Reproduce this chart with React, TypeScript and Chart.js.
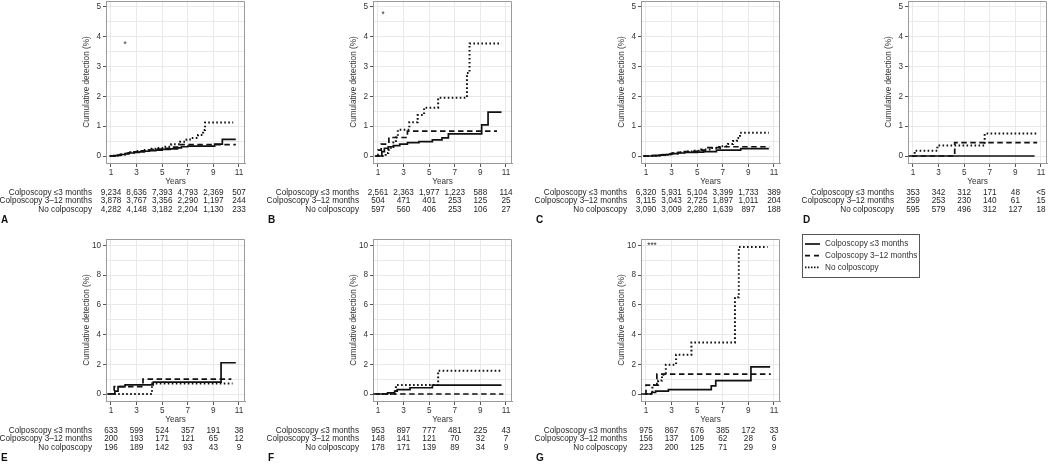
import React, { useEffect, useRef } from 'react';
import { Chart, registerables } from 'chart.js';

Chart.register(...registerables);

type Pt = [number, number];

const FONT = '"Liberation Sans", Arial, Helvetica, sans-serif';
const YEAR_TICKS = [1, 3, 5, 7, 9, 11];
const GROUPS = ['Colposcopy ≤3 months', 'Colposcopy 3–12 months', 'No colposcopy'];
const Y_TICKS_TOP = [0, 0.5, 1, 1.5, 2, 2.5, 3, 3.5, 4, 4.5, 5];
const Y_LABELS_TOP = [0, 1, 2, 3, 4, 5];
const Y_TICKS_BOTTOM = [0, 1, 2, 3, 4, 5, 6, 7, 8, 9, 10];
const Y_LABELS_BOTTOM = [0, 2, 4, 6, 8, 10];

// ---- Panel A ----
const A_le3: Pt[] = [[0.9, 0], [1.2, 0.01], [1.5, 0.03], [1.8, 0.05], [2.1, 0.08], [2.4, 0.1], [2.8, 0.12], [3.2, 0.14], [3.6, 0.16], [4.0, 0.18], [4.5, 0.2], [5.0, 0.22], [5.6, 0.24], [6.2, 0.27], [6.5, 0.31], [7.0, 0.33], [9.1, 0.4], [9.7, 0.56], [10.75, 0.56]];
const A_mid: Pt[] = [[0.9, 0], [1.3, 0.02], [1.7, 0.05], [2.0, 0.08], [2.4, 0.11], [2.8, 0.14], [3.3, 0.17], [3.8, 0.2], [4.3, 0.23], [5.0, 0.26], [5.6, 0.3], [6.2, 0.38], [10.75, 0.38]];
const A_none: Pt[] = [[0.9, 0], [1.3, 0.02], [1.7, 0.05], [2.1, 0.09], [2.5, 0.13], [3.0, 0.17], [3.5, 0.2], [4.0, 0.24], [4.5, 0.27], [5.1, 0.31], [5.7, 0.39], [6.4, 0.48], [6.9, 0.55], [7.3, 0.6], [7.8, 0.7], [8.2, 0.87], [8.35, 1.12], [10.55, 1.12]];
const A_n_le3 = ['9,234', '8,636', '7,393', '4,793', '2,369', '507'];
const A_n_mid = ['3,878', '3,767', '3,356', '2,290', '1,197', '244'];
const A_n_none = ['4,282', '4,148', '3,182', '2,204', '1,130', '233'];

// ---- Panel B ----
const B_le3: Pt[] = [[0.8, 0], [1.3, 0.15], [1.5, 0.26], [1.8, 0.31], [2.2, 0.35], [2.7, 0.4], [3.3, 0.45], [4.2, 0.48], [5.25, 0.54], [6.0, 0.61], [6.5, 0.74], [9.1, 1.04], [9.6, 1.47], [10.65, 1.47]];
const B_mid: Pt[] = [[0.75, 0], [1.0, 0.2], [1.25, 0.4], [1.85, 0.62], [3.3, 0.83], [10.3, 0.83]];
const B_none: Pt[] = [[1.0, 0], [1.6, 0.1], [1.8, 0.2], [2.0, 0.3], [2.2, 0.45], [2.4, 0.62], [2.55, 0.88], [3.45, 1.13], [4.1, 1.37], [4.6, 1.62], [5.7, 1.95], [7.95, 2.78], [8.15, 3.77], [10.65, 3.77]];
const B_n_le3 = ['2,561', '2,363', '1,977', '1,223', '588', '114'];
const B_n_mid = ['504', '471', '401', '253', '125', '25'];
const B_n_none = ['597', '560', '406', '253', '106', '27'];

// ---- Panel C ----
const C_le3: Pt[] = [[0.8, 0], [1.5, 0.01], [2.0, 0.03], [2.5, 0.05], [3.0, 0.08], [3.5, 0.1], [4.0, 0.12], [5.0, 0.13], [5.5, 0.15], [6.5, 0.2], [8.4, 0.25], [10.6, 0.25]];
const C_mid: Pt[] = [[0.8, 0], [1.5, 0.01], [2.0, 0.04], [2.5, 0.06], [3.0, 0.09], [3.5, 0.12], [4.0, 0.15], [5.0, 0.2], [5.7, 0.28], [6.7, 0.31], [10.65, 0.31]];
const C_none: Pt[] = [[0.8, 0], [1.6, 0.01], [2.2, 0.04], [2.7, 0.06], [3.1, 0.09], [3.6, 0.12], [4.2, 0.15], [4.8, 0.18], [5.3, 0.22], [6.1, 0.27], [6.9, 0.33], [7.4, 0.4], [7.8, 0.5], [8.1, 0.6], [8.35, 0.78], [10.6, 0.78]];
const C_n_le3 = ['6,320', '5,931', '5,104', '3,399', '1,733', '389'];
const C_n_mid = ['3,115', '3,043', '2,725', '1,897', '1,011', '204'];
const C_n_none = ['3,090', '3,009', '2,280', '1,639', '897', '188'];

// ---- Panel D ----
const D_le3: Pt[] = [[0.65, 0], [10.5, 0]];
const D_mid: Pt[] = [[0.9, 0], [4.26, 0.45], [10.7, 0.45]];
const D_none: Pt[] = [[1.0, 0], [1.13, 0.18], [2.9, 0.35], [6.6, 0.75], [10.7, 0.75]];
const D_n_le3 = ['353', '342', '312', '171', '48', '<5'];
const D_n_mid = ['259', '253', '230', '140', '61', '15'];
const D_n_none = ['595', '579', '496', '312', '127', '18'];

// ---- Panel E ----
const E_le3: Pt[] = [[0.7, 0], [1.3, 0.2], [1.55, 0.5], [2.1, 0.62], [4.3, 0.8], [9.6, 2.1], [10.75, 2.1]];
const E_mid: Pt[] = [[0.8, 0], [1.25, 0.5], [3.5, 1.0], [10.4, 1.0]];
const E_none: Pt[] = [[1.25, 0], [4.2, 0.7], [10.5, 0.7]];
const E_n_le3 = ['633', '599', '524', '357', '191', '38'];
const E_n_mid = ['200', '193', '171', '121', '65', '12'];
const E_n_none = ['196', '189', '142', '93', '43', '9'];

// ---- Panel F ----
const F_le3: Pt[] = [[0.8, 0], [1.75, 0.07], [2.3, 0.2], [2.5, 0.3], [3.5, 0.42], [5.25, 0.6], [10.65, 0.6]];
const F_mid: Pt[] = [[0.62, 0], [10.8, 0]];
const F_none: Pt[] = [[1.0, 0], [2.4, 0.6], [5.7, 1.57], [10.6, 1.57]];
const F_n_le3 = ['953', '897', '777', '481', '225', '43'];
const F_n_mid = ['148', '141', '121', '70', '32', '7'];
const F_n_none = ['178', '171', '139', '89', '34', '9'];

// ---- Panel G ----
const G_le3: Pt[] = [[0.62, 0], [1.45, 0.1], [1.75, 0.2], [2.75, 0.3], [6.1, 0.55], [6.45, 0.9], [9.2, 1.83], [10.7, 1.83]];
const G_mid: Pt[] = [[0.9, 0], [1.0, 0.6], [1.85, 1.33], [10.75, 1.33]];
const G_none: Pt[] = [[1.0, 0], [1.5, 0.6], [1.95, 0.9], [2.25, 1.3], [2.55, 1.97], [3.35, 2.64], [4.55, 3.47], [7.95, 6.5], [8.25, 9.88], [10.5, 9.88]];
const G_n_le3 = ['975', '867', '676', '385', '172', '33'];
const G_n_mid = ['156', '137', '109', '62', '28', '6'];
const G_n_none = ['223', '200', '125', '71', '29', '9'];

interface PanelDef {
  letter: string;
  series: Pt[][];
  risk: string[][];
  bottomRow: boolean;
  mark?: { x: number; y: number; text: string };
  left: number;
  top: number;
  width: number;
  height: number;
}

const PANELS: PanelDef[] = [
  { letter: 'A', series: [A_le3, A_mid, A_none], risk: [A_n_le3, A_n_mid, A_n_none], bottomRow: false, mark: { x: 2.1, y: 3.8, text: '*' }, left: 0, top: 0, width: 262, height: 238 },
  { letter: 'B', series: [B_le3, B_mid, B_none], risk: [B_n_le3, B_n_mid, B_n_none], bottomRow: false, mark: { x: 1.4, y: 4.8, text: '*' }, left: 267, top: 0, width: 262, height: 238 },
  { letter: 'C', series: [C_le3, C_mid, C_none], risk: [C_n_le3, C_n_mid, C_n_none], bottomRow: false, left: 535, top: 0, width: 262, height: 238 },
  { letter: 'D', series: [D_le3, D_mid, D_none], risk: [D_n_le3, D_n_mid, D_n_none], bottomRow: false, left: 802, top: 0, width: 248, height: 238 },
  { letter: 'E', series: [E_le3, E_mid, E_none], risk: [E_n_le3, E_n_mid, E_n_none], bottomRow: true, left: 0, top: 238, width: 262, height: 227 },
  { letter: 'F', series: [F_le3, F_mid, F_none], risk: [F_n_le3, F_n_mid, F_n_none], bottomRow: true, left: 267, top: 238, width: 262, height: 227 },
  { letter: 'G', series: [G_le3, G_mid, G_none], risk: [G_n_le3, G_n_mid, G_n_none], bottomRow: true, mark: { x: 1.47, y: 10.1, text: '***' }, left: 535, top: 238, width: 262, height: 227 },
];

const AREA_LEFT = 106;
const AREA_RIGHT = 245;
const AREA_TOP = 1;
const AREA_BOTTOM = 163;
const X_AXIS_H = 24;
const Y_AXIS_W = 24;
const ROW_OFFSETS = [29.7, 38.1, 46.4];
const TEXT_SIZE = 8.2;

function Panel({ def }: { def: PanelDef }) {
  const ref = useRef<HTMLCanvasElement>(null);
  useEffect(() => {
    const canvas = ref.current!;
    const yTicks = def.bottomRow ? Y_TICKS_BOTTOM : Y_TICKS_TOP;
    const yLabels = def.bottomRow ? Y_LABELS_BOTTOM : Y_LABELS_TOP;
    const yMin = def.bottomRow ? -0.47 : -0.234;
    const yMax = def.bottomRow ? 10.42 : 5.19;

    const mk = (label: string, pts: Pt[], dash: number[], w: number) => ({
      label,
      data: pts.map(([x, y]) => ({ x, y })),
      stepped: true,
      borderColor: '#111',
      backgroundColor: '#111',
      borderWidth: w,
      borderDash: dash,
      borderCapStyle: 'butt',
      pointRadius: 0,
      fill: false,
    });

    const extras = {
      id: 'panelExtras',
      afterDraw(chart: any) {
        const { ctx, chartArea: ca, scales } = chart;
        const xs = scales.x;
        const ys = scales.y;
        ctx.save();
        ctx.strokeStyle = '#9a9a9a';
        ctx.lineWidth = 1;
        ctx.beginPath();
        const t = Math.round(ca.top) + 0.5;
        const r = Math.round(ca.right) - 0.5;
        const b = Math.round(ca.bottom);
        ctx.moveTo(Math.round(ca.left), t);
        ctx.lineTo(r, t);
        ctx.lineTo(r, b);
        ctx.stroke();
        ctx.font = `${TEXT_SIZE}px ${FONT}`;
        ctx.fillStyle = '#1e1e1e';
        ctx.textBaseline = 'middle';
        def.risk.forEach((row, i) => {
          const yy = ca.bottom + ROW_OFFSETS[i];
          ctx.textAlign = 'right';
          ctx.fillText(GROUPS[i], 92, yy);
          ctx.textAlign = 'center';
          row.forEach((v, j) => ctx.fillText(v, xs.getPixelForValue(YEAR_TICKS[j]), yy));
        });
        ctx.font = `bold 10px ${FONT}`;
        ctx.textAlign = 'left';
        ctx.fillStyle = '#111';
        ctx.fillText(def.letter, 1, ca.bottom + 57.5);
        if (def.mark) {
          ctx.font = `${TEXT_SIZE}px ${FONT}`;
          ctx.textAlign = 'center';
          ctx.fillStyle = '#333';
          ctx.fillText(def.mark.text, xs.getPixelForValue(def.mark.x), ys.getPixelForValue(def.mark.y) + 2);
        }
        ctx.restore();
      },
    };

    const tickFont = { family: FONT, size: TEXT_SIZE };
    const chart = new Chart(canvas, {
      type: 'line',
      data: {
        datasets: [
          mk(GROUPS[2], def.series[2], [1.6, 2.4], 2),
          mk(GROUPS[1], def.series[1], [5.5, 3.5], 1.7),
          mk(GROUPS[0], def.series[0], [], 1.7),
        ] as any,
      },
      options: {
        animation: false,
        responsive: false,
        events: [],
        layout: {
          padding: {
            left: AREA_LEFT - Y_AXIS_W,
            right: def.width - AREA_RIGHT,
            top: AREA_TOP,
            bottom: def.height - AREA_BOTTOM - X_AXIS_H,
          },
        },
        plugins: { legend: { display: false }, tooltip: { enabled: false } },
        scales: {
          x: {
            type: 'linear',
            min: 0.61,
            max: 11.47,
            afterBuildTicks: (s: any) => {
              s.ticks = YEAR_TICKS.map((v) => ({ value: v }));
            },
            afterFit: (s: any) => {
              s.height = X_AXIS_H;
              s.paddingLeft = 0;
              s.paddingRight = 0;
            },
            ticks: { font: tickFont, color: '#333', padding: 1, maxRotation: 0, autoSkip: false, callback: (v: any) => String(v) },
            grid: { color: '#e9e9e9', tickColor: '#555', tickLength: 4, lineWidth: 1 },
            border: { color: '#9a9a9a', width: 1 },
            title: { display: true, text: 'Years', font: tickFont, color: '#333', padding: 0 },
          },
          y: {
            type: 'linear',
            min: yMin,
            max: yMax,
            afterBuildTicks: (s: any) => {
              s.ticks = yTicks.map((v) => ({ value: v }));
            },
            afterFit: (s: any) => {
              s.width = Y_AXIS_W;
              s.paddingTop = 0;
              s.paddingBottom = 0;
            },
            ticks: {
              font: tickFont,
              color: '#333',
              padding: 2,
              autoSkip: false,
              callback: (v: any) => (yLabels.includes(v) ? String(v) : ''),
            },
            grid: {
              color: '#e9e9e9',
              tickLength: 3,
              lineWidth: 1,
              tickColor: (c: any) => (c.tick && yLabels.includes(c.tick.value) ? '#555' : 'rgba(0,0,0,0)'),
            },
            border: { color: '#9a9a9a', width: 1 },
            title: { display: true, text: 'Cumulative detection (%)', font: tickFont, color: '#333', padding: 0 },
          },
        },
      } as any,
      plugins: [extras],
    });
    return () => chart.destroy();
  }, [def]);

  return (
    <canvas
      ref={ref}
      width={def.width}
      height={def.height}
      style={{ position: 'absolute', left: def.left, top: def.top, width: def.width, height: def.height, display: 'block' }}
    />
  );
}

const LEGEND_DASH: number[][] = [[], [5, 4], [1.5, 1.5]];

function Legend() {
  const ref = useRef<HTMLCanvasElement>(null);
  useEffect(() => {
    const ctx = ref.current!.getContext('2d')!;
    ctx.clearRect(0, 0, 118, 44);
    ctx.fillStyle = '#fff';
    ctx.fillRect(0, 0, 118, 44);
    ctx.strokeStyle = '#555';
    ctx.lineWidth = 1;
    ctx.strokeRect(0.5, 0.5, 117, 43);
    GROUPS.forEach((g, i) => {
      const y = 10 + i * 11.7;
      ctx.save();
      ctx.strokeStyle = '#111';
      ctx.lineWidth = 1.7;
      ctx.setLineDash(LEGEND_DASH[i]);
      ctx.beginPath();
      ctx.moveTo(3, y);
      ctx.lineTo(18, y);
      ctx.stroke();
      ctx.restore();
      ctx.font = `${TEXT_SIZE}px ${FONT}`;
      ctx.fillStyle = '#333';
      ctx.textBaseline = 'middle';
      ctx.textAlign = 'left';
      ctx.fillText(g, 23, y);
    });
  }, []);
  return <canvas ref={ref} width={118} height={44} style={{ position: 'absolute', left: 802, top: 234, display: 'block' }} />;
}

export default function App() {
  return (
    <div style={{ position: 'absolute', left: 0, top: 0, width: 1050, height: 465, overflow: 'hidden', background: '#fff' }}>
      {PANELS.map((p) => (
        <Panel key={p.letter} def={p} />
      ))}
      <Legend />
    </div>
  );
}
